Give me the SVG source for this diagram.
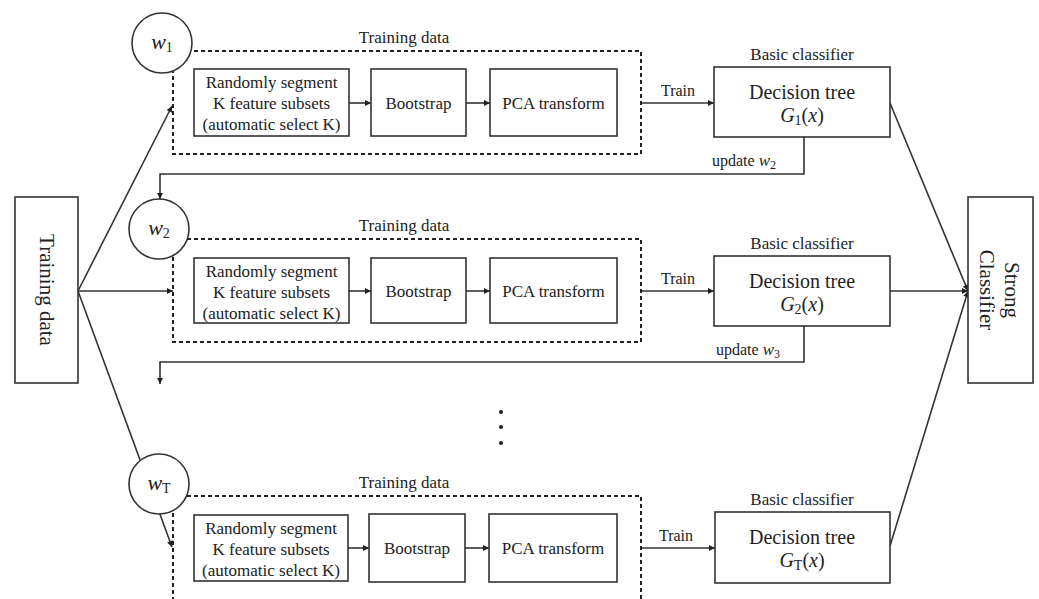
<svg xmlns="http://www.w3.org/2000/svg" width="1039" height="599" viewBox="0 0 1039 599" font-family="'Liberation Serif','Times New Roman',serif">
<defs>
<marker id="ah" viewBox="0 0 10 10" refX="10" refY="5" markerWidth="7" markerHeight="6" markerUnits="userSpaceOnUse" orient="auto">
<path d="M0,0 L10,5 L0,10 z" fill="#222"/>
</marker>
<style>
.box{fill:#fff;stroke:#333;stroke-width:1.6}
.dash{fill:none;stroke:#222;stroke-width:2;stroke-dasharray:4 3}
.circ{fill:#fff;stroke:#333;stroke-width:1.6}
.ln{fill:none;stroke:#333;stroke-width:1.6}
.arr{fill:none;stroke:#333;stroke-width:1.6;marker-end:url(#ah)}
text{font-family:"Liberation Serif","Times New Roman",serif;fill:#222}
.t17{font-size:17px;text-anchor:middle}
.t16{font-size:16px;text-anchor:middle}
.t20{font-size:20px;text-anchor:middle}
.t21{font-size:21px;text-anchor:middle}
.t22{font-size:22px;text-anchor:middle}
.it{font-style:italic}
.sub{font-size:14px;font-style:normal}
</style>
</defs>
<rect width="1039" height="599" fill="#fff"/>

<g id="connectors">
<path class="arr" d="M78,291 L172,106"/>
<path class="arr" d="M78,291 L173,291"/>
<path class="arr" d="M78,291 L172,547"/>
<path class="arr" d="M349,103 L371,103"/>
<path class="arr" d="M466,103 L490,103"/>
<path class="arr" d="M641,103 L714,103"/>
<path class="arr" d="M349,291 L371,291"/>
<path class="arr" d="M466,291 L490,291"/>
<path class="arr" d="M641,291 L714,291"/>
<path class="arr" d="M348,548 L369,548"/>
<path class="arr" d="M465,548 L489,548"/>
<path class="arr" d="M641,548 L715,548"/>
<path class="arr" d="M804,137 L804,174 L160,174 L160,199"/>
<path class="arr" d="M804,326 L804,362 L160,362 L160,384"/>
<path class="arr" d="M890,103 L968,291"/>
<path class="arr" d="M890,291 L968,291"/>
<path class="arr" d="M890,546 L968,291"/>
</g>

<g id="training-data">
<rect class="box" x="15" y="197" width="63" height="186"/>
<text class="t21" transform="translate(47,290) rotate(90)" y="7">Training data</text>
</g>

<g id="strong-classifier">
<rect class="box" x="968" y="197" width="65" height="186"/>
<g transform="translate(1000,290) rotate(90)">
<text class="t21" y="-5">Strong</text>
<text class="t21" y="20">Classifier</text>
</g>
</g>

<g id="row1-data">
<rect class="dash" x="173" y="51" width="468" height="103"/>
<text class="t17" x="404" y="43">Training data</text>
</g>
<g id="w1">
<circle class="circ" cx="162" cy="43" r="30"/>
<text class="t22" x="162" y="49"><tspan class="it">w</tspan><tspan class="sub" dy="3">1</tspan></text>
</g>
<g id="seg1">
<rect class="box" x="194" y="69" width="155" height="67"/>
<text class="t17" x="271.5" y="88">Randomly segment</text>
<text class="t17" x="271.5" y="109">K feature subsets</text>
<text class="t17" x="271.5" y="130">(automatic select K)</text>
</g>
<g id="boot1">
<rect class="box" x="371" y="69" width="95" height="67"/>
<text class="t17" x="418.5" y="109">Bootstrap</text>
</g>
<g id="pca1">
<rect class="box" x="490" y="69" width="127" height="67"/>
<text class="t17" x="553.5" y="109">PCA transform</text>
</g>
<g id="train1"><text class="t16" x="678" y="96">Train</text></g>
<g id="dt1">
<text class="t17" x="802" y="60">Basic classifier</text>
<rect class="box" x="714" y="67" width="176" height="70"/>
<text class="t20" x="802" y="99">Decision tree</text>
<text class="t20" x="802" y="122"><tspan class="it">G</tspan><tspan class="sub" dy="3">1</tspan><tspan dy="-3">(</tspan><tspan class="it">x</tspan><tspan>)</tspan></text>
</g>
<g id="upd2"><text x="712" y="166" style="font-size:16px">update <tspan class="it" style="font-size:17px">w</tspan><tspan class="sub" style="font-size:12px" dy="3">2</tspan></text></g>

<g id="row2-data">
<rect class="dash" x="173" y="239" width="468" height="103"/>
<text class="t17" x="404" y="231">Training data</text>
</g>
<g id="w2">
<circle class="circ" cx="159" cy="229" r="30"/>
<text class="t22" x="159" y="235"><tspan class="it">w</tspan><tspan class="sub" dy="3">2</tspan></text>
</g>
<g id="seg2">
<rect class="box" x="194" y="258" width="155" height="65"/>
<text class="t17" x="271.5" y="277">Randomly segment</text>
<text class="t17" x="271.5" y="298">K feature subsets</text>
<text class="t17" x="271.5" y="319">(automatic select K)</text>
</g>
<g id="boot2">
<rect class="box" x="371" y="258" width="95" height="65"/>
<text class="t17" x="418.5" y="297">Bootstrap</text>
</g>
<g id="pca2">
<rect class="box" x="490" y="258" width="127" height="65"/>
<text class="t17" x="553.5" y="297">PCA transform</text>
</g>
<g id="train2"><text class="t16" x="678" y="284">Train</text></g>
<g id="dt2">
<text class="t17" x="802" y="249">Basic classifier</text>
<rect class="box" x="714" y="256" width="176" height="70"/>
<text class="t20" x="802" y="288">Decision tree</text>
<text class="t20" x="802" y="311"><tspan class="it">G</tspan><tspan class="sub" dy="3">2</tspan><tspan dy="-3">(</tspan><tspan class="it">x</tspan><tspan>)</tspan></text>
</g>
<g id="upd3"><text x="716" y="355" style="font-size:16px">update <tspan class="it" style="font-size:17px">w</tspan><tspan class="sub" style="font-size:12px" dy="3">3</tspan></text></g>

<g id="dots">
<circle cx="501" cy="412" r="2" fill="#222"/>
<circle cx="501" cy="427" r="2" fill="#222"/>
<circle cx="501" cy="443" r="2" fill="#222"/>
</g>

<g id="row3-data">
<rect class="dash" x="173" y="496" width="468" height="120"/>
<text class="t17" x="404" y="488">Training data</text>
</g>
<g id="wT">
<circle class="circ" cx="159" cy="484" r="30"/>
<text class="t22" x="159" y="490"><tspan class="it">w</tspan><tspan class="sub it" dy="3">T</tspan></text>
</g>
<g id="seg3">
<rect class="box" x="194" y="515" width="154" height="66"/>
<text class="t17" x="271" y="534">Randomly segment</text>
<text class="t17" x="271" y="555">K feature subsets</text>
<text class="t17" x="271" y="576">(automatic select K)</text>
</g>
<g id="boot3">
<rect class="box" x="369" y="514" width="96" height="68"/>
<text class="t17" x="417" y="554">Bootstrap</text>
</g>
<g id="pca3">
<rect class="box" x="489" y="514" width="128" height="68"/>
<text class="t17" x="553" y="554">PCA transform</text>
</g>
<g id="train3"><text class="t16" x="676" y="541">Train</text></g>
<g id="dtT">
<text class="t17" x="802" y="505">Basic classifier</text>
<rect class="box" x="715" y="512" width="175" height="71"/>
<text class="t20" x="802" y="544">Decision tree</text>
<text class="t20" x="802" y="567"><tspan class="it">G</tspan><tspan class="sub it" dy="3">T</tspan><tspan dy="-3">(</tspan><tspan class="it">x</tspan><tspan>)</tspan></text>
</g>
</svg>
